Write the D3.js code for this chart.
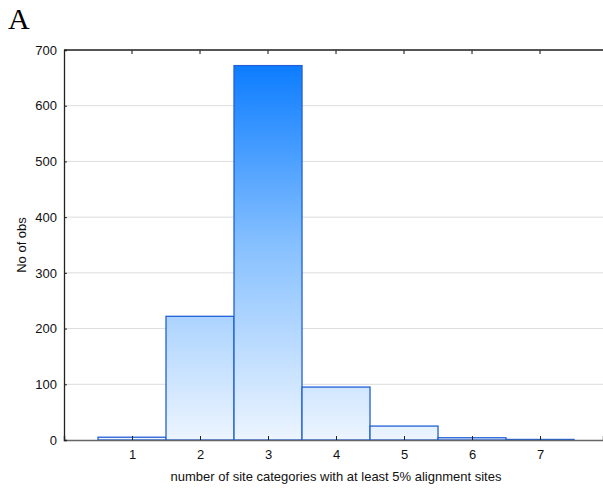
<!DOCTYPE html>
<html><head><meta charset="utf-8">
<script src="https://cdn.jsdelivr.net/npm/d3@7"></script>
<style>body{margin:0;background:#fff;}svg{display:block;}</style>
</head><body>
<svg id="c" width="603" height="491"></svg>
<script>
const categories = [1, 2, 3, 4, 5, 6, 7];
const counts = [5, 222, 672, 95, 25, 4, 1];
const yTicks = [0, 100, 200, 300, 400, 500, 600, 700];
const xTitle = "number of site categories with at least 5% alignment sites";
const yTitle = "No of obs";
const panelLabel = "A";

const svg = d3.select("#c");
const m = {l: 64, t: 50, r: 603, b: 440};
const x = d3.scaleLinear().domain([0, 7.926]).range([m.l, m.r]);
const y = d3.scaleLinear().domain([0, 700]).range([m.b, m.t]);
const font = "Liberation Sans, Arial, sans-serif";

const defs = svg.append("defs");
const g = defs.append("linearGradient").attr("id", "bg").attr("gradientUnits", "userSpaceOnUse")
  .attr("x1", 0).attr("x2", 0).attr("y1", y(700)).attr("y2", y(0));
g.append("stop").attr("offset", 0).attr("stop-color", "#0277FF");
g.append("stop").attr("offset", 0.5).attr("stop-color", "#86C0FF");
g.append("stop").attr("offset", 1).attr("stop-color", "#EDF5FF");

// grid
svg.append("g").selectAll("line").data(yTicks.filter(d => d > 0 && d < 700)).join("line")
  .attr("x1", m.l).attr("x2", m.r).attr("y1", d => y(d)).attr("y2", d => y(d))
  .attr("stroke", "#dcdcdc").attr("stroke-width", 1);

// bars
svg.append("g").selectAll("rect").data(categories).join("rect")
  .attr("x", (d) => x(d - 0.5))
  .attr("width", (d) => x(d + 0.5) - x(d - 0.5))
  .attr("y", (d, i) => y(counts[i]))
  .attr("height", (d, i) => y(0) - y(counts[i]))
  .attr("fill", "url(#bg)")
  .attr("stroke", "#2160D6").attr("stroke-width", 1.3);

// top border
svg.append("line").attr("x1", m.l).attr("x2", m.r).attr("y1", m.t).attr("y2", m.t)
  .attr("stroke", "#555").attr("stroke-width", 1.8);
// top ticks
svg.append("g").selectAll("line").data(categories).join("line")
  .attr("x1", d => x(d)).attr("x2", d => x(d)).attr("y1", m.t).attr("y2", m.t + 4)
  .attr("stroke", "#333").attr("stroke-width", 1.2);

// bottom axis
const xAxis = d3.axisBottom(x).tickValues(categories).tickSize(-4).tickPadding(10).tickFormat(d3.format("d"));
const gx = svg.append("g").attr("transform", `translate(0,${m.b})`).call(xAxis);
gx.select(".domain").attr("stroke", "#666").attr("stroke-width", 1.6);
gx.selectAll(".tick line").attr("stroke", "#222");
gx.selectAll("text").attr("font-family", font).attr("font-size", 13).attr("fill", "#111");

// left axis
const yAxis = d3.axisLeft(y).tickValues(yTicks).tickSize(-3).tickPadding(7);
const gy = svg.append("g").attr("transform", `translate(${m.l},0)`).call(yAxis);
gy.select(".domain").attr("stroke", "#222").attr("stroke-width", 1.3);
gy.selectAll(".tick line").attr("stroke", "#222");
gy.selectAll("text").attr("font-family", font).attr("font-size", 13).attr("fill", "#111");

svg.append("text").attr("x", 336).attr("y", 481).attr("text-anchor", "middle")
  .attr("font-family", font).attr("font-size", 13).attr("fill", "#111").text(xTitle);
svg.append("text").attr("transform", `translate(26,${(m.t + m.b) / 2}) rotate(-90)`).attr("text-anchor", "middle")
  .attr("font-family", font).attr("font-size", 13).attr("fill", "#111").text(yTitle);
svg.append("text").attr("x", 8).attr("y", 29)
  .attr("font-family", "Liberation Serif, Times New Roman, serif").attr("font-size", 30).attr("fill", "#000").text(panelLabel);
</script>
</body></html>
